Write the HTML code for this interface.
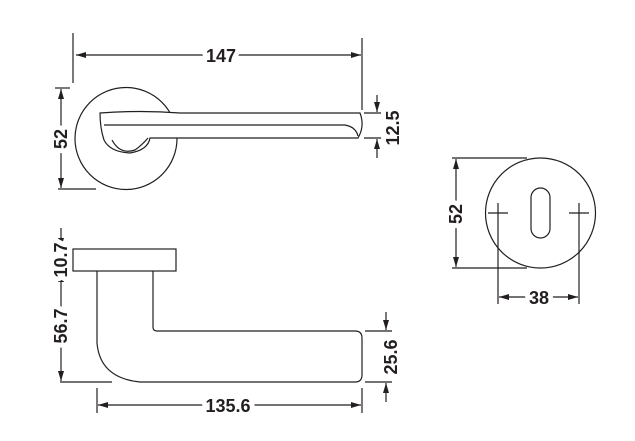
<!DOCTYPE html>
<html><head><style>body{margin:0;background:#fff}svg{display:block}text{font-family:"Liberation Sans",Arial,sans-serif;font-weight:bold;font-size:18px;fill:#231f20;stroke:#fff;stroke-width:10px;paint-order:stroke;stroke-linejoin:round}</style></head><body>
<svg width="635" height="441" viewBox="0 0 635 441" xmlns="http://www.w3.org/2000/svg">
<defs><marker id="a" viewBox="0 0 10 6" refX="10" refY="3" markerWidth="10" markerHeight="6" orient="auto-start-reverse" markerUnits="userSpaceOnUse"><path d="M0,0L10,3L0,6z" fill="#231f20"/></marker></defs>
<g stroke="#231f20" stroke-width="1.2" fill="none">
<line x1="73" y1="33" x2="73" y2="83"/>
<line x1="362" y1="38" x2="362" y2="110"/>
<line x1="76" y1="55" x2="361" y2="55" marker-start="url(#a)" marker-end="url(#a)"/>
<circle cx="126" cy="138.5" r="51"/>
<path d="M100,113 Q140,110 180,113 L360,113 Q365,126 358,138 L175,138 L150,138 Q148,150 130,153 Q110,152 104,140 Q100,128 100,113 Z" fill="#fff"/>
<path d="M104,125 L345,125 Q356,127 358,136"/>
<path d="M112,140 Q120,155 135,150 Q142,145 148,138"/>
<line x1="55" y1="88" x2="70" y2="88"/>
<line x1="58" y1="189" x2="96" y2="189"/>
<line x1="61" y1="89" x2="61" y2="188" marker-start="url(#a)" marker-end="url(#a)"/>
<line x1="364" y1="113" x2="385" y2="113"/>
<line x1="364" y1="138" x2="385" y2="138"/>
<line x1="377" y1="95" x2="377" y2="112" marker-end="url(#a)"/>
<line x1="377" y1="158" x2="377" y2="139" marker-end="url(#a)"/>
<rect x="73" y="249" width="103" height="22"/>
<path d="M97,271 L97,343 Q100,378 140,382 L355,382 Q362,382 362,375 L362,338 Q362,331 355,331 L157,331 Q153,331 153,327 L153,271"/>
<line x1="55" y1="249" x2="72" y2="249"/>
<line x1="55" y1="271" x2="72" y2="271"/>
<line x1="60" y1="382" x2="112" y2="382"/>
<line x1="61" y1="228" x2="61" y2="248" marker-end="url(#a)"/>
<line x1="61" y1="272" x2="61" y2="381" marker-start="url(#a)" marker-end="url(#a)"/>
<line x1="365" y1="331" x2="392" y2="331"/>
<line x1="365" y1="382" x2="392" y2="382"/>
<line x1="386" y1="312" x2="386" y2="330" marker-end="url(#a)"/>
<line x1="386" y1="402" x2="386" y2="383" marker-end="url(#a)"/>
<line x1="97" y1="388" x2="97" y2="413"/>
<line x1="362" y1="388" x2="362" y2="413"/>
<line x1="98" y1="405" x2="361" y2="405" marker-start="url(#a)" marker-end="url(#a)"/>
<circle cx="540.5" cy="213" r="55"/>
<rect x="531" y="188" width="19" height="50" rx="9.5"/>
<line x1="488" y1="213" x2="508" y2="213"/>
<line x1="569" y1="213" x2="589" y2="213"/>
<line x1="498" y1="203" x2="498" y2="304"/>
<line x1="579" y1="203" x2="579" y2="304"/>
<line x1="452" y1="158" x2="527" y2="158"/>
<line x1="452" y1="268" x2="527" y2="268"/>
<line x1="456" y1="159" x2="456" y2="267" marker-start="url(#a)" marker-end="url(#a)"/>
<line x1="499" y1="297" x2="578" y2="297" marker-start="url(#a)" marker-end="url(#a)"/>
</g>
<text x="221" y="62" text-anchor="middle">147</text>
<text transform="translate(67,139) rotate(-90)" text-anchor="middle">52</text>
<text transform="translate(399,128) rotate(-90)" text-anchor="middle">12.5</text>
<text transform="translate(67,326) rotate(-90)" text-anchor="middle">56.7</text>
<text transform="translate(67,260) rotate(-90)" text-anchor="middle">10.7</text>
<text transform="translate(397,357) rotate(-90)" text-anchor="middle">25.6</text>
<text x="228" y="412" text-anchor="middle">135.6</text>
<text transform="translate(462,214) rotate(-90)" text-anchor="middle">52</text>
<text x="539" y="304" text-anchor="middle">38</text>
</svg>
</body></html>
